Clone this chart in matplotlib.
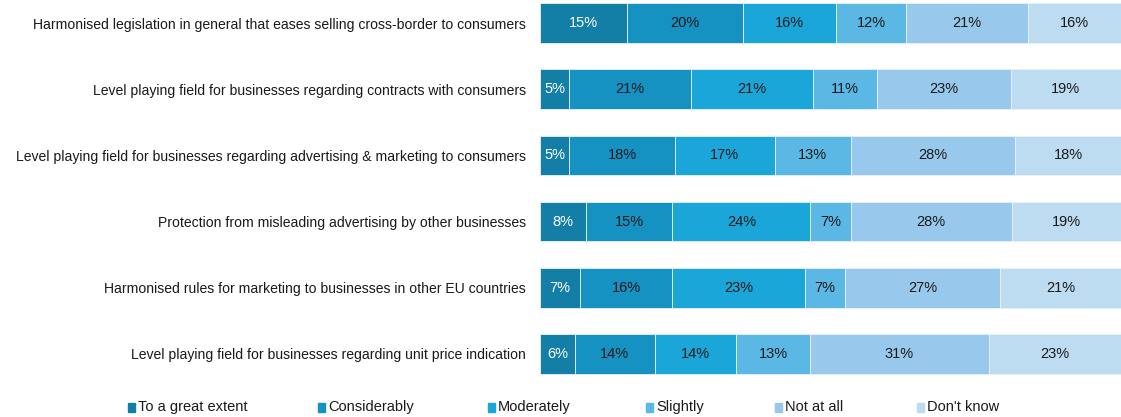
import numpy as np
import matplotlib
matplotlib.use('Agg')
import matplotlib.pyplot as plt
from matplotlib.patches import Rectangle

# data
statements = [
    "Harmonised legislation in general that eases selling cross-border to consumers",
    "Level playing field for businesses regarding contracts with consumers",
    "Level playing field for businesses regarding advertising & marketing to consumers",
    "Protection from misleading advertising by other businesses",
    "Harmonised rules for marketing to businesses in other EU countries",
    "Level playing field for businesses regarding unit price indication",
]
answers = ["To a great extent", "Considerably", "Moderately", "Slightly", "Not at all", "Don't know"]
great_extent = [15, 5, 5, 8, 7, 6]
considerably = [20, 21, 18, 15, 16, 14]
moderately = [16, 21, 17, 24, 23, 14]
slightly = [12, 11, 13, 7, 7, 13]
not_at_all = [21, 23, 28, 28, 27, 31]
dont_know = [16, 19, 18, 19, 21, 23]

colors = ["#137ea6", "#1592c2", "#1ba6d9", "#5bb7e4", "#98c9ec", "#bddbf1"]
text_colors = ["white", "#1a1a1a", "#1a1a1a", "#1a1a1a", "#1a1a1a", "#1a1a1a"]

plt.rcParams['font.family'] = ['Liberation Sans', 'DejaVu Sans']

series = np.array([great_extent, considerably, moderately, slightly, not_at_all, dont_know], dtype=float)
shares = series / series.sum(axis=0) * 100  # stretch each row to full width

W, H = 1121, 417
fig = plt.figure(figsize=(W / 100, H / 100), dpi=100)
ax = fig.add_axes([540 / W, 1 - 387 / H, 1 - 540 / W, 397 / H])

y = np.arange(len(statements))
left = np.zeros(len(statements))
for k in range(len(answers)):
    ax.barh(y, shares[k], left=left, height=0.6, color=colors[k],
            edgecolor='#e8f2fa', linewidth=0.6)
    for i in range(len(statements)):
        ax.text(left[i] + shares[k][i] / 2, y[i], f"{int(series[k][i])}%",
                ha='center', va='center', fontsize=10.5, color=text_colors[k])
    left += shares[k]

ax.set_xlim(0, 100)
ax.set_ylim(len(statements) - 0.5, -0.5)
ax.set_yticks(y)
ax.set_yticklabels(statements, fontsize=10.1, color='#1a1a1a')
ax.tick_params(axis='y', length=0, pad=10)
ax.set_xticks([])
for s in ax.spines.values():
    s.set_visible(False)

# legend along the bottom
legend_x = [128, 318, 488, 646, 775, 917]
for k, name in enumerate(answers):
    x0 = legend_x[k] / W
    fig.patches.append(Rectangle((x0, 1 - 412 / H), 7 / W, 9 / H,
                                 transform=fig.transFigure, color=colors[k]))
    fig.text(x0 + 10 / W, 1 - 407 / H, name, ha='left', va='center',
             fontsize=10.5, color='#1a1a1a')

fig.savefig('out.png', dpi=100)
